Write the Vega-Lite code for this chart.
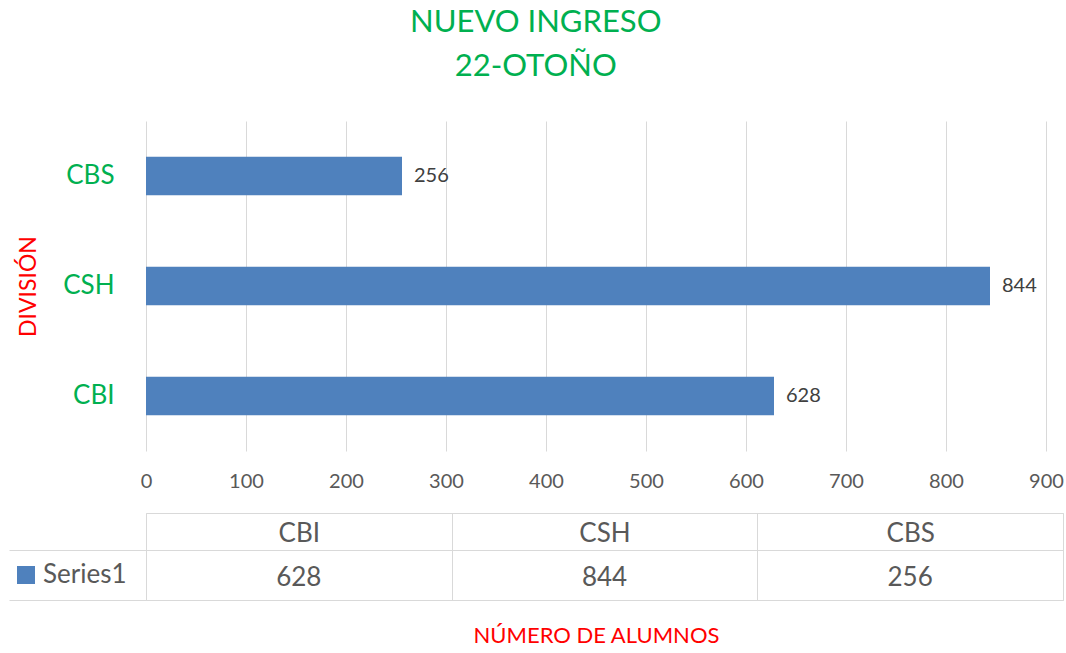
{
  "$schema": "https://vega.github.io/schema/vega-lite/v6.json",
  "padding": {"left": 8, "top": 7, "right": 4, "bottom": 5},
  "background": "white",
  "title": {"text": ["NUEVO INGRESO", "22-OTOÑO"], "fontSize": 31, "color": "#00B050", "font": "Lato", "fontWeight": "normal", "anchor": "middle", "lineHeight": 44, "offset": 38},
  "config": {"font": "Lato", "view": {"stroke": null}},
  "spacing": 21,
  "resolve": {"legend": {"color": "independent"}},
  "datasets": {
    "d": [
      {"division": "CBI", "series": "Series1", "value": 628},
      {"division": "CSH", "series": "Series1", "value": 844},
      {"division": "CBS", "series": "Series1", "value": 256}
    ]
  },
  "vconcat": [
    {
      "width": 900,
      "height": 330,
      "data": {"name": "d"},
      "encoding": {
        "y": {"field": "division", "type": "nominal", "sort": ["CBS", "CSH", "CBI"],
          "scale": {"paddingInner": 0.65, "paddingOuter": 0.325},
          "axis": {"title": "DIVISIÓN", "titleColor": "#FF0000", "titleFontSize": 23, "titleFontWeight": "normal", "titlePadding": 22,
            "labelColor": "#00B050", "labelFontSize": 26, "labelPadding": 32, "ticks": false, "domain": false}},
        "x": {"field": "value", "type": "quantitative", "scale": {"domain": [0, 900], "nice": false},
          "axis": {"values": [0, 100, 200, 300, 400, 500, 600, 700, 800, 900], "grid": true, "gridColor": "#D9D9D9", "domain": false, "ticks": false,
            "labelColor": "#595959", "labelFontSize": 20, "labelPadding": 20, "title": null, "labelFlush": false}}
      },
      "layer": [
        {"mark": {"type": "bar", "color": "#4F81BD"}},
        {"mark": {"type": "text", "align": "left", "baseline": "middle", "dx": 12, "fontSize": 20, "color": "#404040"},
          "encoding": {"text": {"field": "value", "type": "quantitative"}}}
      ]
    },
    {
      "width": 917,
      "height": 87,
      "view": {"stroke": "#D9D9D9"},
      "data": {"name": "d"},
      "encoding": {
        "y": {"field": "series", "type": "nominal",
          "scale": {"paddingInner": 0, "paddingOuter": 0.37, "align": 1},
          "axis": {"title": null, "labels": false, "domain": false, "ticks": true, "tickBand": "extent", "tickSize": 137, "tickColor": "#D9D9D9", "grid": true, "gridColor": "#D9D9D9"}}
      },
      "layer": [
        {
          "mark": {"type": "text", "fontSize": 26, "color": "#595959", "dy": 3},
          "encoding": {
            "text": {"field": "value", "type": "quantitative"},
            "x": {"field": "division", "type": "nominal", "sort": ["CBI", "CSH", "CBS"], "scale": {"paddingInner": 0, "paddingOuter": 0},
              "axis": {"orient": "top", "title": null, "labelColor": "#595959", "labelFontSize": 26, "labelPadding": -20, "labelBaseline": "middle", "labelAngle": 0,
                "tickSize": 0, "ticks": false, "domain": false, "grid": true, "gridColor": "#D9D9D9", "tickBand": "extent"}}
          }
        },
        {
          "mark": {"type": "square", "opacity": 0},
          "encoding": {
            "x": {"field": "division", "type": "nominal", "sort": ["CBI", "CSH", "CBS"],
              "axis": {"orient": "bottom", "labels": false, "ticks": false, "domain": false, "grid": false,
                "title": "NÚMERO DE ALUMNOS", "titleColor": "#FF0000", "titleFontSize": 22, "titleFontWeight": "normal", "titlePadding": 25, "titleX": 450}},
            "color": {"field": "series", "type": "nominal", "scale": {"range": ["#4F81BD"]},
              "legend": {"orient": "none", "legendX": -133, "legendY": 49, "title": null, "symbolType": "square", "symbolSize": 324, "symbolStrokeWidth": 0,
                "labelFontSize": 26, "labelColor": "#595959", "labelOffset": 4, "padding": 0,
                "encode": {"symbols": {"update": {"opacity": {"value": 1}, "fill": {"value": "#4F81BD"}}}}}}
          }
        }
      ],
      "resolve": {"axis": {"x": "independent"}}
    }
  ]
}
